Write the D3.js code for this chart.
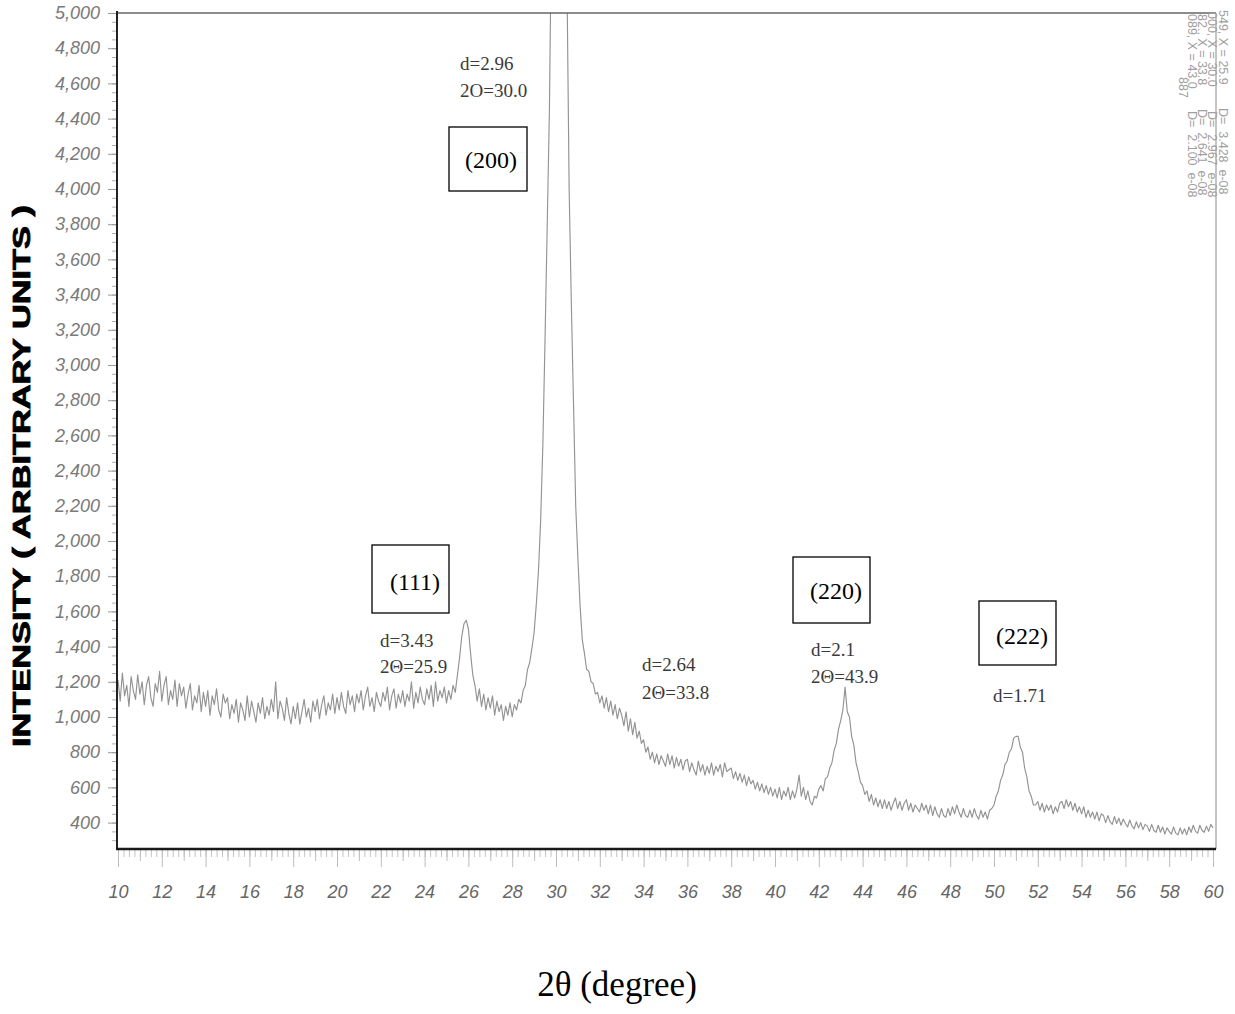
<!DOCTYPE html>
<html>
<head>
<meta charset="utf-8">
<script src="https://cdn.jsdelivr.net/npm/d3@7"></script>
<style>
  html, body { margin: 0; padding: 0; background: #ffffff; }
  svg { display: block; }
  .listing { white-space: pre; }
</style>
</head>
<body>
<svg id="chart" width="1235" height="1014"></svg>
<script>
// X-ray diffraction scan: counts sampled every 0.1 degree of 2θ from 10 to 60.
const scanStart = 10;
const scanStep = 0.1;
const counts = [
  // 10.0 – 10.9
  1210, 1090, 1250, 1120, 1180, 1060, 1230, 1150, 1100, 1240,
  // 11
  1130, 1200, 1070, 1180, 1230, 1110, 1060, 1190, 1140, 1260,
  // 12
  1090, 1180, 1230, 1070, 1150, 1100, 1210, 1060, 1190, 1120,
  // 13
  1170, 1050, 1130, 1190, 1040, 1120, 1080, 1180, 1030, 1140,
  // 14
  1060, 1150, 1010, 1120, 1070, 1160, 1040, 1000, 1130, 1080,
  // 15
  1110, 990, 1070, 1020, 1100, 970, 1080, 1040, 980, 1120,
  // 16
  1000, 1090, 1030, 970, 1080, 1020, 1110, 990, 1060, 1010,
  // 17
  1100, 1030, 1200, 990, 1090, 1050, 980, 1110, 1020, 960,
  // 18
  1060, 990, 1080, 960, 1030, 1100, 1000, 1050, 970, 1090,
  // 19
  1030, 1100, 990, 1070, 1120, 1010, 1080, 1040, 1130, 1020,
  // 20
  1110, 1040, 1140, 1060, 1020, 1150, 1070, 1120, 1030, 1130,
  // 21
  1080, 1150, 1040, 1120, 1170, 1060, 1110, 1030, 1140, 1090,
  // 22
  1060, 1140, 1090, 1170, 1040, 1120, 1160, 1050, 1130, 1080,
  // 23
  1150, 1060, 1130, 1090, 1200, 1050, 1140, 1080, 1170, 1100,
  // 24
  1070, 1160, 1100, 1180, 1060, 1200, 1090, 1150, 1110, 1170,
  // 25  (111) reflection
  1080, 1150, 1100, 1180, 1140, 1240, 1340, 1460, 1530, 1550,
  // 26
  1500, 1360, 1240, 1180, 1090, 1160, 1060, 1130, 1040, 1110,
  // 27
  1050, 1120, 1010, 1090, 1030, 1070, 980, 1060, 1010, 1080,
  // 28
  1000, 1070, 1040, 1100, 1080, 1150, 1180, 1270, 1310, 1390,
  // 29  (200) reflection, top runs off scale
  1480, 1640, 1830, 2120, 2550, 3150, 3800, 4450, 5600, 7500,
  // 30
  9500, 10000, 9800, 8500, 6800, 5200, 4000, 3350, 2780, 2200,
  // 31
  1900, 1630, 1440, 1360, 1270, 1260, 1200, 1190, 1130, 1140,
  // 32
  1080, 1120, 1050, 1110, 1030, 1090, 1010, 1070, 990, 1050,
  // 33
  1010, 950, 1030, 920, 990, 900, 970, 880, 920, 850,
  // 34
  870, 800, 830, 760, 800, 740, 790, 730, 780, 750,
  // 35
  720, 790, 730, 780, 710, 770, 720, 760, 700, 750,
  // 36
  760, 690, 740, 700, 670, 750, 690, 730, 670, 720,
  // 37
  680, 740, 670, 720, 690, 730, 660, 740, 690, 700,
  // 38
  710, 650, 690, 640, 680, 630, 670, 610, 660, 620,
  // 39
  640, 590, 630, 580, 620, 570, 610, 560, 600, 550,
  // 40
  590, 540, 600, 530, 580, 550, 600, 530, 580, 540,
  // 41
  590, 670, 550, 600, 530, 580, 520, 500, 550, 540,
  // 42  (220) reflection
  590, 610, 580, 650, 660, 710, 740, 810, 850, 930,
  // 43
  980, 1040, 1170, 1030, 1000, 890, 840, 740, 690, 630,
  // 44
  610, 560, 580, 520, 560, 500, 540, 490, 530, 480,
  // 45
  530, 480, 520, 470, 510, 540, 480, 520, 470, 510,
  // 46
  530, 470, 510, 460, 500, 480, 460, 510, 470, 500,
  // 47
  450, 500, 440, 490, 450, 430, 480, 440, 430, 480,
  // 48
  440, 490, 450, 500, 460, 430, 480, 440, 430, 470,
  // 49
  430, 480, 440, 420, 470, 430, 460, 420, 470, 480,
  // 50  (222) reflection
  500, 550, 580, 640, 670, 730, 750, 800, 820, 880,
  // 51
  890, 890, 830, 800, 710, 660, 580, 550, 500, 500,
  // 52
  520, 470, 510, 460, 500, 470, 500, 450, 490, 460,
  // 53
  510, 520, 480, 530, 490, 520, 470, 510, 460, 490,
  // 54
  450, 490, 430, 470, 430, 460, 420, 460, 410, 450,
  // 55
  440, 400, 440, 405, 390, 435, 395, 425, 385, 420,
  // 56
  395, 375, 415, 380, 365, 405, 370, 400, 360, 390,
  // 57
  380, 350, 390, 355, 345, 385, 345, 375, 335, 370,
  // 58
  350, 335, 375, 340, 330, 370, 335, 365, 330, 375,
  // 59
  345, 385, 350, 340, 385, 355, 345, 380, 350, 390,
  // 60
  370
];

// Axis ticks
const xTicks = [10, 12, 14, 16, 18, 20, 22, 24, 26, 28, 30, 32, 34, 36, 38, 40, 42, 44, 46, 48, 50, 52, 54, 56, 58, 60];
const yTicks = [400, 600, 800, 1000, 1200, 1400, 1600, 1800, 2000, 2200, 2400, 2600, 2800, 3000, 3200, 3400, 3600, 3800, 4000, 4200, 4400, 4600, 4800, 5000];

// Reflection labels and peak read-outs
const hklLabels = ["(111)", "(200)", "(220)", "(222)"];
const peakNotes = [
  ["d=3.43", "2Θ=25.9"],
  ["d=2.96", "2O=30.0"],
  ["d=2.64", "2Θ=33.8"],
  ["d=2.1", "2Θ=43.9"],
  ["d=1.71"]
];
// Instrument peak-search listing printed along the right edge
const peakListing = [
  ["549, X = 25.9", "D=  3.428  e-08"],
  ["000, X = 30.0", "D=  2.967  e-08"],
  ["82., X = 33.8", "D=  2.641  e-08"],
  ["089, X = 43.0", "D=  2.100  e-08"],
  ["887", ""]
];
const xTitle = "2θ (degree)";
const yTitle = "INTENSITY ( ARBITRARY UNITS )";

// ---------------------------------------------------------------- layout
const plot = { left: 117, right: 1216, top: 13, bottom: 849 };
const hklBoxes = [
  { x: 372, y: 545, w: 77, h: 68, tx: 415, ty: 590 },
  { x: 449, y: 127, w: 78, h: 64, tx: 491, ty: 168 },
  { x: 793, y: 557, w: 77, h: 66, tx: 836, ty: 599 },
  { x: 979, y: 601, w: 77, h: 64, tx: 1022, ty: 644 }
];
const noteLayout = [
  { x: 380, y: [647, 673] },
  { x: 460, y: [70, 97] },
  { x: 642, y: [671, 699] },
  { x: 811, y: [656, 683] },
  { x: 993, y: [702] }
];
const listingColumns = [1219, 1208, 1198, 1188, 1179];
const listingStarts = [[10, 108], [12, 111], [14, 109], [14, 111], [77, 0]];

const svg = d3.select("#chart");

const x = d3.scaleLinear().domain([10, 60]).range([118, 1213]);
const y = d3.scaleLinear().domain([250, 5000]).range([plot.bottom, plot.top]);

const scan = counts.map((c, i) => ({ t: scanStart + i * scanStep, c }));

svg.append("defs").append("clipPath").attr("id", "plotClip")
  .append("rect")
  .attr("x", plot.left + 1).attr("y", plot.top)
  .attr("width", plot.right - plot.left - 1)
  .attr("height", plot.bottom - plot.top);

// ---------------------------------------------------------------- axes
const tickFont = "'Liberation Sans', Arial, sans-serif";

// y minor ticks
svg.append("g")
  .attr("transform", `translate(${plot.left},0)`)
  .call(d3.axisLeft(y).tickValues(d3.range(300, 5001, 50)).tickSize(5).tickFormat(""))
  .call(g => g.select(".domain").remove())
  .call(g => g.selectAll("line").attr("stroke", "#b0b0b0"));

// y major ticks + labels
svg.append("g")
  .attr("transform", `translate(${plot.left},0)`)
  .call(d3.axisLeft(y).tickValues(yTicks).tickSize(9).tickPadding(8).tickFormat(d3.format(",")))
  .call(g => g.select(".domain").remove())
  .call(g => g.selectAll("line").attr("stroke", "#999"))
  .call(g => g.selectAll("text")
    .attr("font-family", tickFont)
    .attr("font-style", "italic")
    .attr("font-size", 18)
    .attr("fill", "#7a7a7a"));

// x minor ticks
svg.append("g")
  .attr("transform", `translate(0,${plot.bottom})`)
  .call(d3.axisBottom(x).tickValues(d3.range(10, 60.001, 0.25)).tickSize(8).tickFormat(""))
  .call(g => g.select(".domain").remove())
  .call(g => g.selectAll("line").attr("stroke", "#c4c4c4"));
svg.append("g")
  .attr("transform", `translate(0,${plot.bottom})`)
  .call(d3.axisBottom(x).tickValues(d3.range(11, 60, 2)).tickSize(12).tickFormat(""))
  .call(g => g.select(".domain").remove())
  .call(g => g.selectAll("line").attr("stroke", "#c0c0c0"));

// x major ticks + labels
svg.append("g")
  .attr("transform", `translate(0,${plot.bottom})`)
  .call(d3.axisBottom(x).tickValues(xTicks).tickSize(18).tickPadding(18))
  .call(g => g.select(".domain").remove())
  .call(g => g.selectAll("line").attr("stroke", "#bdbdbd"))
  .call(g => g.selectAll("text")
    .attr("font-family", tickFont)
    .attr("font-style", "italic")
    .attr("font-size", 18)
    .attr("fill", "#666"));

// ---------------------------------------------------------------- trace
const line = d3.line().x(d => x(d.t)).y(d => y(d.c));
svg.append("path")
  .datum(scan)
  .attr("clip-path", "url(#plotClip)")
  .attr("fill", "none")
  .attr("stroke", "#939393")
  .attr("stroke-width", 1.15)
  .attr("stroke-linejoin", "round")
  .attr("d", line);

// ---------------------------------------------------------------- frame
svg.append("line")
  .attr("x1", plot.left).attr("x2", plot.right)
  .attr("y1", plot.top).attr("y2", plot.top)
  .attr("stroke", "#666").attr("stroke-width", 1.6);
svg.append("line")
  .attr("x1", plot.right).attr("x2", plot.right)
  .attr("y1", plot.top).attr("y2", plot.bottom)
  .attr("stroke", "#8a8a8a").attr("stroke-width", 1);
svg.append("line")
  .attr("x1", plot.left).attr("x2", plot.left)
  .attr("y1", plot.top - 2).attr("y2", plot.bottom + 1)
  .attr("stroke", "#222").attr("stroke-width", 2);
svg.append("line")
  .attr("x1", plot.left - 1).attr("x2", plot.right)
  .attr("y1", plot.bottom).attr("y2", plot.bottom)
  .attr("stroke", "#1a1a1a").attr("stroke-width", 2.6);

// ---------------------------------------------------------------- annotations
const serif = "'Liberation Serif', 'Times New Roman', serif";

hklLabels.forEach((label, i) => {
  const b = hklBoxes[i];
  svg.append("rect")
    .attr("x", b.x).attr("y", b.y).attr("width", b.w).attr("height", b.h)
    .attr("fill", "#fff").attr("stroke", "#000").attr("stroke-width", 1.3);
  svg.append("text")
    .attr("x", b.tx).attr("y", b.ty)
    .attr("text-anchor", "middle")
    .attr("font-family", serif).attr("font-size", 24).attr("fill", "#000")
    .text(label);
});

peakNotes.forEach((lines, i) => {
  const L = noteLayout[i];
  lines.forEach((t, j) => {
    svg.append("text")
      .attr("x", L.x).attr("y", L.y[j])
      .attr("font-family", serif).attr("font-size", 19).attr("fill", "#3a3a3a")
      .text(t);
  });
});

// rotated peak listing at the top right
peakListing.forEach((parts, i) => {
  parts.forEach((t, j) => {
    if (!t) return;
    svg.append("text")
      .attr("class", "listing")
      .attr("transform", `translate(${listingColumns[i]},${listingStarts[i][j]}) rotate(90)`)
      .attr("font-family", tickFont).attr("font-size", 12.5).attr("fill", "#a0a0a0")
      .text(t);
  });
});

// ---------------------------------------------------------------- titles
svg.append("text")
  .attr("x", 617).attr("y", 996)
  .attr("text-anchor", "middle")
  .attr("font-family", serif).attr("font-size", 35).attr("fill", "#000")
  .text(xTitle);

svg.append("text")
  .attr("transform", "translate(30,476) rotate(-90)")
  .attr("text-anchor", "middle")
  .attr("font-family", tickFont).attr("font-weight", "bold").attr("font-size", 23)
  .attr("fill", "#000").attr("stroke", "#000").attr("stroke-width", 0.8)
  .attr("textLength", 542).attr("lengthAdjust", "spacingAndGlyphs")
  .text(yTitle);
</script>
</body>
</html>
